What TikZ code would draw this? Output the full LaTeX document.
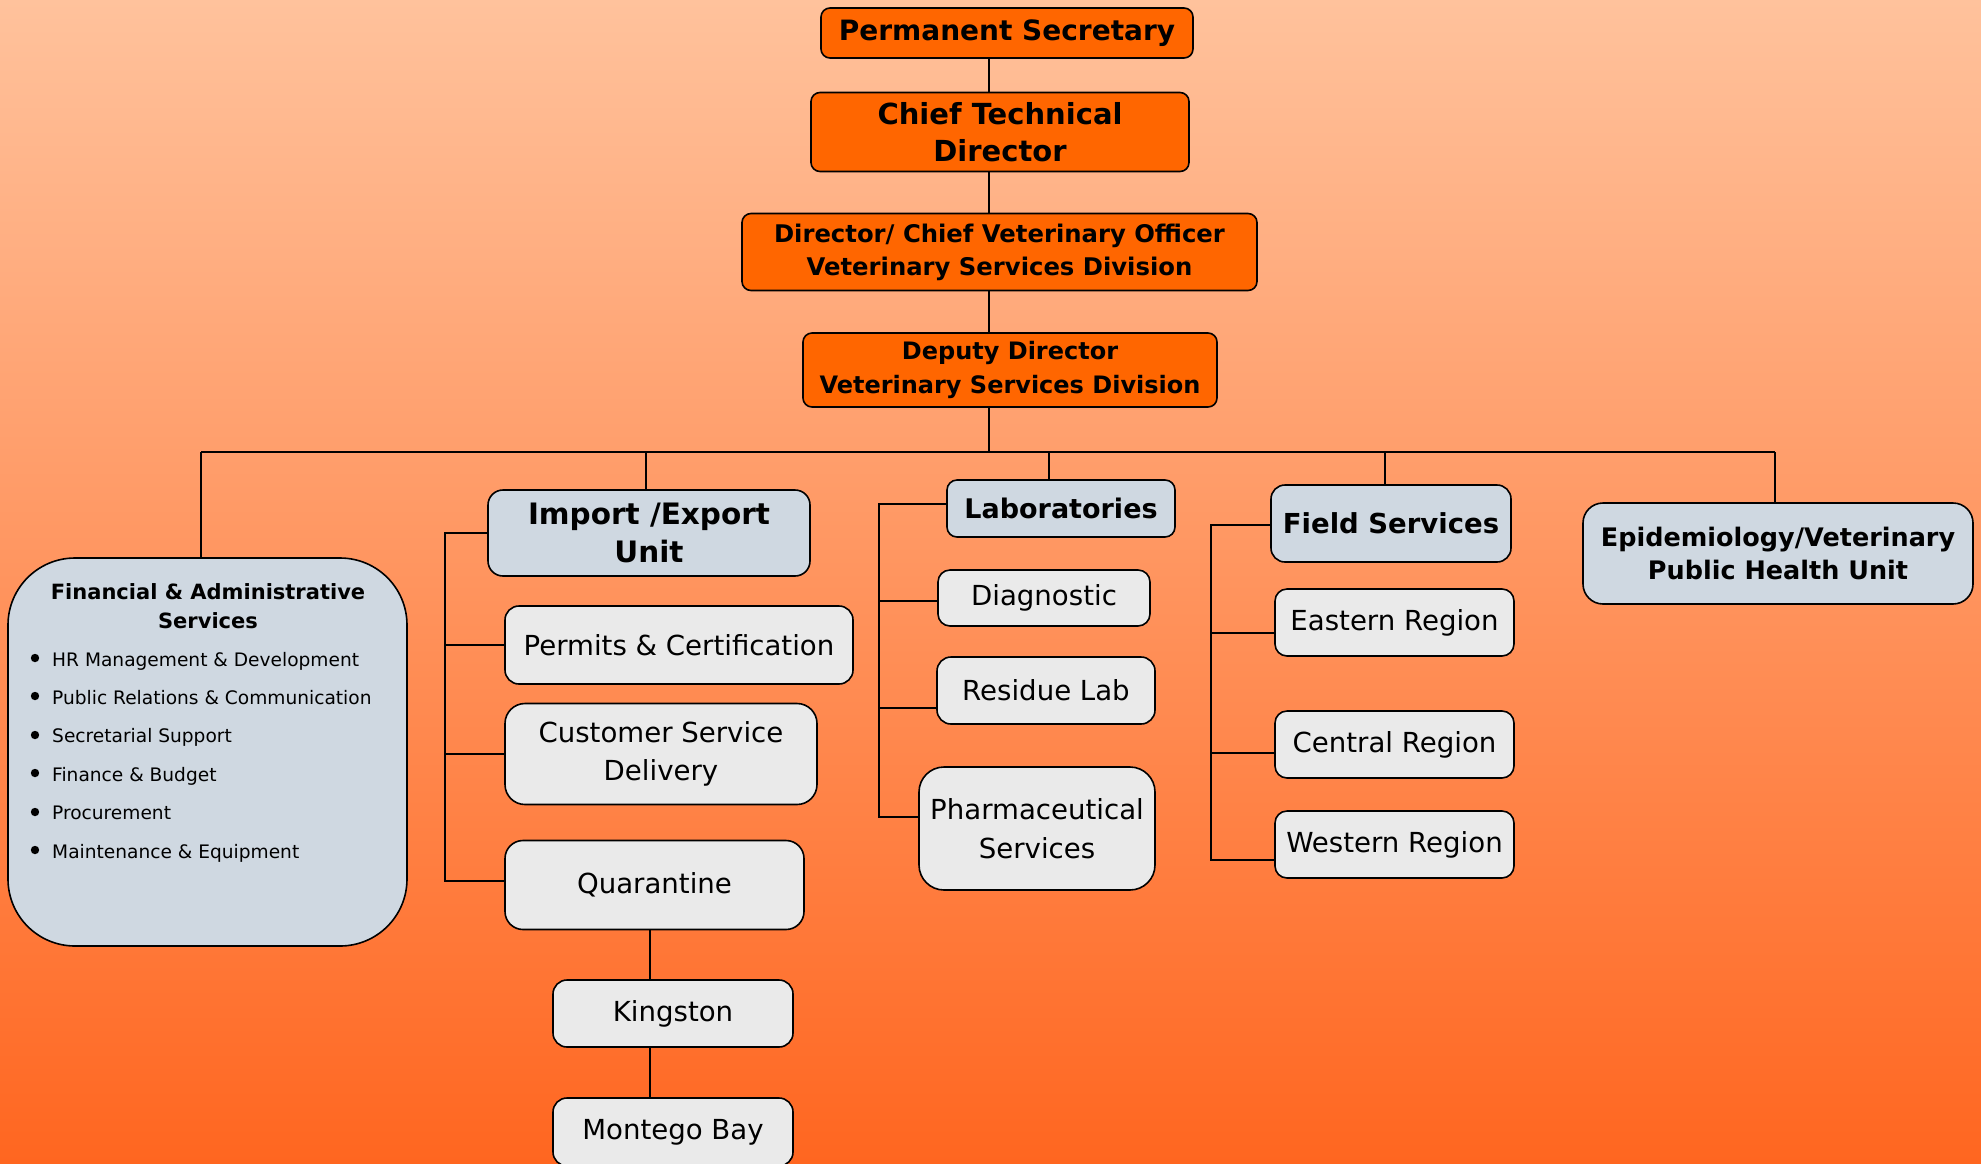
\documentclass[tikz,border=0pt]{standalone}
\usepackage{fontspec}
\setmainfont{DejaVu Sans}
\definecolor{bgtop}{RGB}{255,194,156}
\definecolor{bgbot}{RGB}{255,102,32}
\definecolor{orgfill}{RGB}{255,102,0}
\definecolor{headfill}{RGB}{207,216,225}
\definecolor{leaffill}{RGB}{234,234,234}
\newcommand{\fsz}[2]{\fontsize{#1}{#2}\selectfont}
\begin{document}
\begin{tikzpicture}[x=1pt,y=-1pt,
  box/.style={draw=black, line width=1.6pt, rounded corners=#1, inner sep=0pt, align=center},
  box/.default=12,
  orangebox/.style={box=9, fill=orgfill},
  headbox/.style={box=#1, fill=headfill},
  headbox/.default=14,
  leafbox/.style={box=#1, fill=leaffill, font=\fsz{27.6}{38}},
  leafbox/.default=14,
  conn/.style={line width=1.5pt, draw=black},
  item/.style={anchor=base west, inner sep=0pt, font=\fsz{18.6}{24}}
]
\useasboundingbox (0,0) rectangle (1981,1163);
\clip (0,0) rectangle (1981,1163);
\shade[top color=bgtop,bottom color=bgbot] (0,0) rectangle (1981,1163);

% top chain
\node[orangebox, minimum width=372, minimum height=50, font=\bfseries\fsz{28}{34}] (ps) at (1007,33) {Permanent Secretary};
\node[orangebox, minimum width=378, minimum height=79, font=\bfseries\fsz{29}{37}] (ctd) at (1000,132) {Chief Technical\\Director};
\node[orangebox, minimum width=515, minimum height=77, font=\bfseries\fsz{24.3}{33}] (dir) at (999.5,252) {Director/ Chief Veterinary Officer\\Veterinary Services Division};
\node[orangebox, minimum width=414, minimum height=74, font=\bfseries\fsz{24}{34}] (dep) at (1010,370) {Deputy Director\\Veterinary Services Division};

% financial
\node[headbox=67, minimum width=399, minimum height=388] (fin) at (207.5,752) {};
\node[inner sep=0pt, align=center, font=\bfseries\fsz{21}{29}] (fint) at (208,606.5) {Financial \& Administrative\\Services};
\foreach \yb/\yc/\t [count=\i] in {666/658/HR Management \& Development,704/696/Public Relations \& Communication,742/735/Secretarial Support,781/773/Finance \& Budget,819/812/Procurement,858/850/Maintenance \& Equipment}{
  \fill (35,\yc) circle (4.2pt);
  \node[item] (fi\i) at (52,\yb) {\t};
}

% import/export
\node[headbox=15, minimum width=322, minimum height=86, font=\bfseries\fsz{29.5}{38}] (imp) at (649,533) {Import /Export\\Unit};
\node[leafbox=14, minimum width=348, minimum height=78] (perm) at (679,645) {Permits \& Certification};
\node[leafbox=20, minimum width=312, minimum height=101] (csd) at (661,754) {Customer Service\\Delivery};
\node[leafbox=18, minimum width=299, minimum height=89] (quar) at (654.5,885) {Quarantine};
\node[leafbox=14, minimum width=240, minimum height=67] (king) at (673,1013.5) {Kingston};
\node[leafbox=14, minimum width=240, minimum height=68] (mont) at (673,1132) {Montego Bay};

% laboratories
\node[headbox=10, minimum width=228, minimum height=57, font=\bfseries\fsz{27}{36}] (lab) at (1061,508.5) {Laboratories};
\node[leafbox=12, minimum width=212, minimum height=56] (diag) at (1044,598) {Diagnostic};
\node[leafbox=14, minimum width=218, minimum height=67] (res) at (1046,690.5) {Residue Lab};
\node[leafbox=25, minimum width=236, minimum height=123, font=\fsz{27.6}{39}] (pharm) at (1037,828.5) {Pharmaceutical\\Services};

% field services
\node[headbox=14, minimum width=240, minimum height=77, font=\bfseries\fsz{27.5}{36}] (fld) at (1391,523.5) {Field Services};
\node[leafbox=12, minimum width=239, minimum height=67] (eastr) at (1394.5,622.5) {Eastern Region};
\node[leafbox=12, minimum width=239, minimum height=67] (centr) at (1394.5,744.5) {Central Region};
\node[leafbox=12, minimum width=239, minimum height=67] (westr) at (1394.5,844.5) {Western Region};

% epidemiology
\node[headbox=20, minimum width=390, minimum height=101, font=\bfseries\fsz{25.5}{33}] (epi) at (1778,553.5) {Epidemiology/Veterinary\\Public Health Unit};

% connectors
\coordinate (spine) at (989,0);
\coordinate (busL) at (201,452);
\coordinate (busR) at (1775,452);
\coordinate (dimp) at (646,452);
\coordinate (dlab) at (1049,452);
\coordinate (dfld) at (1385,452);
\coordinate (ispine) at (445,0);
\coordinate (lspine) at (879,0);
\coordinate (fspine) at (1211,0);
\coordinate (qk) at (650,0);

\draw[conn] (ps.south -| spine) -- (ctd.north -| spine);
\draw[conn] (ctd.south -| spine) -- (dir.north -| spine);
\draw[conn] (dir.south -| spine) -- (dep.north -| spine);
\draw[conn] (dep.south -| spine) -- (spine |- busL);
\draw[conn] (busL) -- (busR);
\draw[conn] (busL) -- (busL |- fin.north);
\draw[conn] (dimp) -- (dimp |- imp.north);
\draw[conn] (dlab) -- (dlab |- lab.north);
\draw[conn] (dfld) -- (dfld |- fld.north);
\draw[conn] (busR) -- (busR |- epi.north);

\draw[conn] (imp.west) -- (imp.west -| ispine) -- ([yshift=4pt]quar.west -| ispine) -- ([yshift=4pt]quar.west);
\draw[conn] (perm.west -| ispine) -- (perm.west);
\draw[conn] (csd.west -| ispine) -- (csd.west);
\draw[conn] (quar.south -| qk) -- (king.north -| qk);
\draw[conn] (king.south -| qk) -- (mont.north -| qk);

\draw[conn] ([yshift=4.5pt]lab.west) -- ([yshift=4.5pt]lab.west -| lspine) -- ([yshift=11.5pt]pharm.west -| lspine) -- ([yshift=11.5pt]pharm.west);
\draw[conn] ([yshift=-3pt]diag.west -| lspine) -- ([yshift=-3pt]diag.west);
\draw[conn] ([yshift=-17.5pt]res.west -| lspine) -- ([yshift=-17.5pt]res.west);

\draw[conn] ([yshift=-1.5pt]fld.west) -- ([yshift=-1.5pt]fld.west -| fspine) -- ([yshift=-15.5pt]westr.west -| fspine) -- ([yshift=-15.5pt]westr.west);
\draw[conn] ([yshift=-10.5pt]eastr.west -| fspine) -- ([yshift=-10.5pt]eastr.west);
\draw[conn] ([yshift=-8.5pt]centr.west -| fspine) -- ([yshift=-8.5pt]centr.west);
\end{tikzpicture}
\end{document}
